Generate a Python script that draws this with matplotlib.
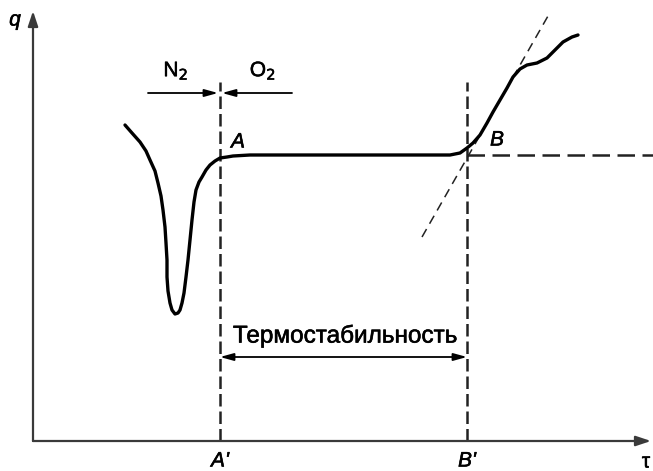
import matplotlib.pyplot as plt
import matplotlib.patheffects as pe

plt.rcParams['font.family'] = ['Liberation Sans', 'DejaVu Sans']

# curve q(tau) (tau, q in picture units from origin)
tau = [92, 99, 107, 113, 117, 122, 125, 128, 130, 132, 133, 134, 134, 135, 137,
       139, 142, 145, 147, 149, 151, 153, 155, 157, 159, 161, 163, 166, 169, 173,
       177, 182, 187, 194, 200, 217, 417, 427, 434, 440, 447, 454, 460, 467, 474,
       480, 487, 494, 504, 514, 522, 530, 539, 545]
q = [316, 308, 299, 290, 281, 270, 258, 245, 231, 214, 198, 181, 164, 150, 138,
     131, 127, 128, 131, 138, 148, 164, 181, 201, 221, 239, 251, 259, 264, 271,
     276, 280, 283, 284, 285, 286, 286, 288, 293, 298, 306, 318, 329, 341, 353,
     364, 372, 376, 378, 383, 391, 399, 404, 406]

tau_A = 187      # A'
tau_B = 434      # B'
q_plateau = 286
tangent_tau = [389, 515]
tangent_q = [204, 425]

fig = plt.figure(figsize=(6.53, 4.71), dpi=100)
ax = fig.add_axes([0, 0, 1, 1])
ax.set_xlim(-33, 620)
ax.set_ylim(-30, 441)
ax.axis('off')

axcol = '#3a3a3a'
# axes with arrows
ax.annotate('', xy=(618, 0), xytext=(0, 0),
            arrowprops=dict(arrowstyle='-|>,head_length=0.9,head_width=0.3', lw=1.6, color=axcol,
                            shrinkA=0, shrinkB=0))
ax.annotate('', xy=(0, 430), xytext=(0, 0),
            arrowprops=dict(arrowstyle='-|>,head_length=0.9,head_width=0.3', lw=1.6, color=axcol,
                            shrinkA=0, shrinkB=0))

# verticals
ax.plot([tau_A, tau_A], [0, 359], ls=(0, (5, 2)), lw=1.8, color='#222')
ax.plot([tau_B, tau_B], [0, 359], ls=(0, (5, 2)), lw=1.8, color='#222')
# horizontal extension
ax.plot([tau_B, 620], [q_plateau, q_plateau], ls=(0, (7, 3)), lw=1.8, color='#222')
# tangent
ax.plot(tangent_tau, tangent_q, ls=(0, (6, 4)), lw=1.1, color='#222')

# curve
ax.plot(tau, q, color='black', lw=2.4, solid_joinstyle='round', solid_capstyle='round')

fs = 15
thick = [pe.withStroke(linewidth=0.4, foreground='black')]
def label(x, y, s, size=fs, **kw):
    ax.text(x, y, s, fontsize=size, ha='center', va='center', path_effects=thick, **kw)

label(-18, 421, 'q', style='italic')
label(613, -21, 'τ')
label(tau_A, -20, "A'", style='italic')
label(tau_B, -20, "B'", style='italic')
label(205, 299, 'A', style='italic')
label(464, 301, 'B', style='italic')
label(143, 370, 'N$_2$')
label(230, 370, 'O$_2$')

arr = dict(arrowstyle='-|>,head_length=0.8,head_width=0.22', lw=1.3, color='black',
           shrinkA=0, shrinkB=0)
ax.annotate('', xy=(tau_A - 2, 348), xytext=(115, 348), arrowprops=arr)
ax.annotate('', xy=(tau_A + 2, 348), xytext=(259, 348), arrowprops=arr)

label((tau_A + tau_B) / 2 + 1, 105, 'Термостабильность', size=17.5)
ax.annotate('', xy=(tau_A, 84), xytext=(tau_B, 84),
            arrowprops=dict(arrowstyle='<|-|>,head_length=0.8,head_width=0.22', lw=1.3,
                            color='black', shrinkA=0, shrinkB=0))

fig.savefig('out.png', dpi=100)
